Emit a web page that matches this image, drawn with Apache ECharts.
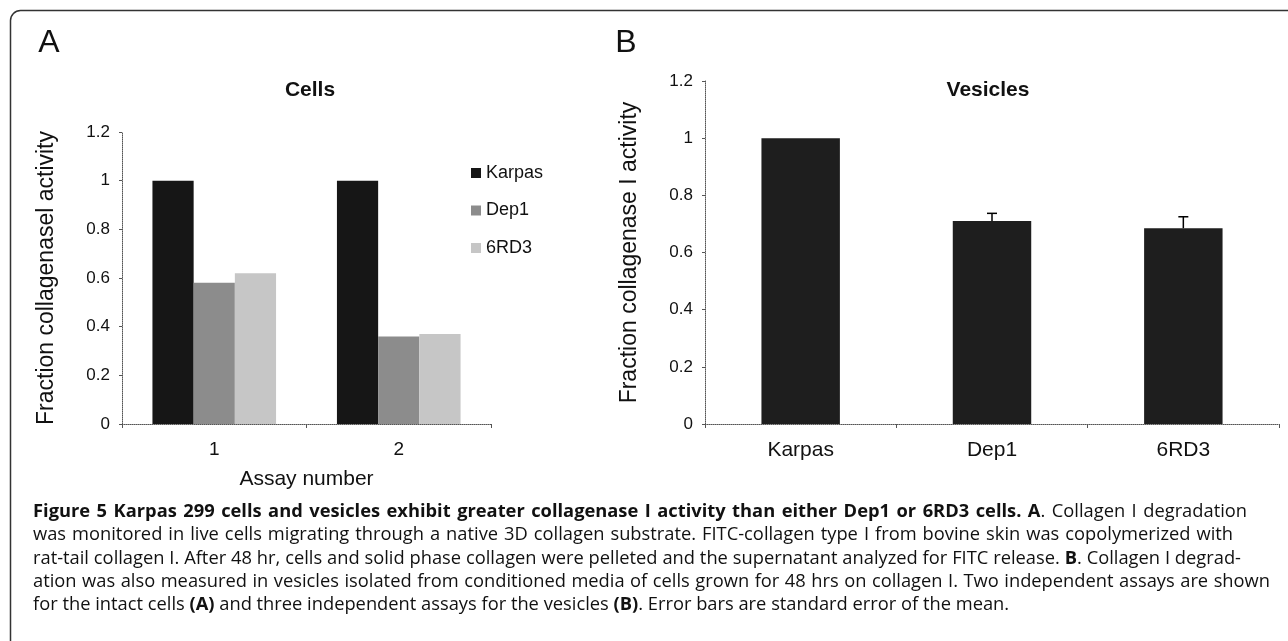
<!DOCTYPE html>
<html><head><meta charset="utf-8">
<script src="https://cdn.jsdelivr.net/npm/echarts@6/dist/echarts.min.js"></script>
<style>html,body{margin:0;padding:0;background:#fff}#c{width:1288px;height:641px}</style>
</head><body><div id="c"></div>
<script>
// ---- data ----
const cellCategories = ['1', '2'];
const cellSeriesNames = ['Karpas', 'Dep1', '6RD3'];
const karpasCells = [1.0, 1.0];
const dep1Cells = [0.58, 0.36];
const rd3Cells = [0.62, 0.37];

const vesicleCategories = ['Karpas', 'Dep1', '6RD3'];
const vesicleMeans = [1.0, 0.71, 0.685];
const vesicleErrors = [0, 0.027, 0.04];

const yMin = 0, yMax = 1.2, yInterval = 0.2;

const captionLines = [
  [['Figure 5 Karpas 299 cells and vesicles exhibit greater collagenase I activity than either Dep1 or 6RD3 cells. A', true], ['. Collagen I degradation', false]],
  [['was monitored in live cells migrating through a native 3D collagen substrate. FITC-collagen type I from bovine skin was copolymerized with', false]],
  [['rat-tail collagen I. After 48 hr, cells and solid phase collagen were pelleted and the supernatant analyzed for FITC release. ', false], ['B', true], ['. Collagen I degrad-', false]],
  [['ation was also measured in vesicles isolated from conditioned media of cells grown for 48 hrs on collagen I. Two independent assays are shown', false]],
  [['for the intact cells ', false], ['(A)', true], [' and three independent assays for the vesicles ', false], ['(B)', true], ['. Error bars are standard error of the mean.', false]]
];

// ---- layout / style ----
const FONT = '"Liberation Sans", Arial, sans-serif';
const CAP_FONT = '"Open Sans", sans-serif';
const INK = '#111';

const chart = echarts.init(document.getElementById('c'));

// caption layout (justified words)
const mctx = document.createElement('canvas').getContext('2d');
function mw(t, bold, size) { mctx.font = (bold ? 'bold ' : '') + size + 'px ' + CAP_FONT; return mctx.measureText(t).width; }
function toWords(line) {
  const words = []; let cur = [];
  line.forEach(([t, b]) => {
    t.split(' ').forEach((p, i) => {
      if (i > 0) { if (cur.length) words.push(cur); cur = []; }
      if (p.length) cur.push([p, b]);
    });
  });
  if (cur.length) words.push(cur);
  return words;
}
const capLeft = 33;
const capRights = [1247, 1233, 1241, 1270, null];
const lastLineWidth = 977;
let capSize = 16;
{
  const w = toWords(captionLines[4]);
  let tot = 0; w.forEach(word => word.forEach(([t, b]) => tot += mw(t, b, 16)));
  tot += mw(' ', false, 16) * (w.length - 1);
  capSize = Math.max(14, Math.min(19, 16 * lastLineWidth / tot));
}
const capElems = [];
captionLines.forEach((line, li) => {
  const words = toWords(line);
  const widths = words.map(word => word.reduce((s, [t, b]) => s + mw(t, b, capSize), 0));
  const sum = widths.reduce((a, b) => a + b, 0);
  let gap = mw(' ', false, capSize);
  if (capRights[li] !== null && words.length > 1) gap = (capRights[li] - capLeft - sum) / (words.length - 1);
  let x = capLeft;
  const y = 512 + li * 23.2;
  words.forEach((word) => {
    word.forEach(([t, b]) => {
      capElems.push({
        type: 'text', x: x, y: y, silent: true,
        style: { text: t, fontSize: capSize, fontFamily: CAP_FONT, fontWeight: b ? 'bold' : 'normal', fill: '#111',
          align: 'left', textAlign: 'left', verticalAlign: 'middle', textVerticalAlign: 'middle' }
      });
      x += mw(t, b, capSize);
    });
    x += gap;
  });
});

function txt(text, x, y, size, weight) {
  return { type: 'text', x: x, y: y, silent: true,
    style: { text: text, fontSize: size, fontWeight: weight || 'normal', fontFamily: FONT, fill: INK,
      align: 'center', textAlign: 'center', verticalAlign: 'middle', textVerticalAlign: 'middle' } };
}

const axisLineStyle = { color: '#555', type: 'dotted', width: 1 };
function yAxisCfg(gridIndex, name) {
  return {
    type: 'value', gridIndex: gridIndex, min: yMin, max: yMax, interval: yInterval,
    name: name, nameLocation: 'middle', nameGap: 64, nameRotate: 90,
    nameTextStyle: { fontSize: 23, fontFamily: FONT, color: INK },
    axisLine: { show: true, lineStyle: axisLineStyle },
    axisTick: { show: true, length: 3, lineStyle: { color: '#555', width: 1 } },
    axisLabel: { fontSize: 17, fontFamily: FONT, color: INK, margin: 12 },
    splitLine: { show: false }
  };
}

const option = {
  animation: false,
  backgroundColor: '#fff',
  grid: [
    { left: 122, top: 132, width: 369, height: 292 },
    { left: 705, top: 81, width: 574, height: 343 }
  ],
  xAxis: [
    { type: 'category', gridIndex: 0, data: cellCategories,
      name: 'Assay number', nameLocation: 'middle', nameGap: 45,
      nameTextStyle: { fontSize: 21, fontFamily: FONT, color: INK },
      axisLine: { lineStyle: axisLineStyle },
      axisTick: { show: true, length: 4, lineStyle: { color: '#555', width: 1 } },
      axisLabel: { fontSize: 19, fontFamily: FONT, color: INK, margin: 16 } },
    { type: 'category', gridIndex: 1, data: vesicleCategories,
      axisLine: { lineStyle: axisLineStyle },
      axisTick: { show: true, length: 4, lineStyle: { color: '#555', width: 1 } },
      axisLabel: { fontSize: 21, fontFamily: FONT, color: INK, margin: 16 } }
  ],
  yAxis: [
    yAxisCfg(0, 'Fraction collagenasel activity'),
    yAxisCfg(1, 'Fraction collagenase I activity')
  ],
  legend: {
    data: cellSeriesNames, orient: 'vertical', left: 466, top: 158,
    itemWidth: 10, itemHeight: 10, itemGap: 17.5, icon: 'rect',
    textStyle: { fontSize: 18, fontFamily: FONT, color: INK, lineHeight: 20 },
    selectedMode: false
  },
  series: [
    { name: cellSeriesNames[0], type: 'bar', xAxisIndex: 0, yAxisIndex: 0, data: karpasCells,
      barGap: '0%', barCategoryGap: '33%', itemStyle: { color: '#161616' } },
    { name: cellSeriesNames[1], type: 'bar', xAxisIndex: 0, yAxisIndex: 0, data: dep1Cells,
      barGap: '0%', barCategoryGap: '33%', itemStyle: { color: '#8c8c8c' } },
    { name: cellSeriesNames[2], type: 'bar', xAxisIndex: 0, yAxisIndex: 0, data: rd3Cells,
      barGap: '0%', barCategoryGap: '33%', itemStyle: { color: '#c6c6c6' } },
    { name: 'Vesicles', type: 'bar', xAxisIndex: 1, yAxisIndex: 1, data: vesicleMeans,
      barCategoryGap: '59%', itemStyle: { color: '#1e1e1e' } },
    { name: 'Vesicles SEM', type: 'custom', xAxisIndex: 1, yAxisIndex: 1, z: 5,
      data: vesicleMeans.map((m, i) => [i, m, m + vesicleErrors[i]]),
      encode: { x: 0, y: [1, 2] },
      renderItem: function (params, api) {
        if (api.value(2) <= api.value(1)) return null;
        const base = api.coord([api.value(0), api.value(1)]);
        const top = api.coord([api.value(0), api.value(2)]);
        return { type: 'group', children: [
          { type: 'line', shape: { x1: base[0], y1: base[1], x2: base[0], y2: top[1] }, style: { stroke: '#000', lineWidth: 1.5 } },
          { type: 'line', shape: { x1: base[0] - 5, y1: top[1], x2: base[0] + 5, y2: top[1] }, style: { stroke: '#000', lineWidth: 1.5 } }
        ] };
      } }
  ],
  graphic: [
    { type: 'rect', silent: true, shape: { x: 10.5, y: 10.5, width: 1400, height: 800, r: [10, 0, 0, 0] },
      style: { fill: 'none', stroke: '#333', lineWidth: 1.5 } },
    txt('A', 49, 43, 32, 'normal'),
    txt('B', 626, 43, 32, 'normal'),
    txt('Cells', 310, 90, 21, 'bold'),
    txt('Vesicles', 988, 90, 21, 'bold')
  ].concat(capElems)
};
chart.setOption(option);
</script>
</body></html>
